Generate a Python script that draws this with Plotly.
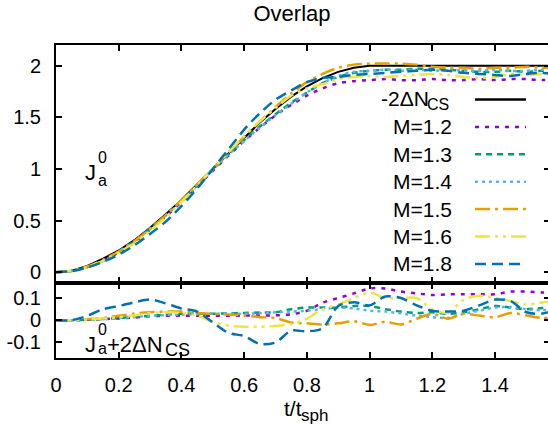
import plotly.graph_objects as go

# ---------------- data ----------------
t = [0, 0.05, 0.1, 0.15, 0.2, 0.25, 0.3, 0.35, 0.4, 0.45, 0.5, 0.55, 0.6, 0.65, 0.7,
     0.75, 0.8, 0.85, 0.9, 0.95, 1.0, 1.05, 1.1, 1.15, 1.2, 1.25, 1.3, 1.35, 1.4, 1.45, 1.5, 1.55, 1.6]

neg2dNcs = [0, 0.015, 0.06, 0.13, 0.21, 0.31, 0.43, 0.56, 0.70, 0.85, 1.0, 1.16, 1.31, 1.45,
            1.58, 1.70, 1.80, 1.88, 1.94, 1.98, 2.0, 2.0, 2.0, 2.0, 2.0, 2.0, 2.0, 2.0, 2.0, 2.0, 2.0, 2.0, 2.0]

J_M12 = [0, 0.012, 0.05, 0.11, 0.19, 0.29, 0.41, 0.54, 0.68, 0.83, 0.98, 1.13, 1.27, 1.40, 1.52,
         1.62, 1.71, 1.78, 1.83, 1.85, 1.86, 1.87, 1.86, 1.86, 1.87, 1.86, 1.86, 1.87, 1.86, 1.87, 1.87, 1.86, 1.87]
J_M13 = [0, 0.012, 0.05, 0.11, 0.2, 0.3, 0.42, 0.55, 0.69, 0.84, 0.99, 1.14, 1.28, 1.41, 1.53,
         1.64, 1.74, 1.83, 1.89, 1.93, 1.95, 1.96, 1.96, 1.97, 1.97, 1.96, 1.95, 1.94, 1.94, 1.95, 1.94, 1.95, 1.95]
J_M14 = [0, 0.013, 0.05, 0.11, 0.2, 0.3, 0.42, 0.55, 0.69, 0.84, 0.99, 1.14, 1.27, 1.40, 1.52,
         1.63, 1.74, 1.83, 1.90, 1.94, 1.95, 1.96, 1.95, 1.96, 1.95, 1.96, 1.95, 1.95, 1.96, 1.95, 1.95, 1.96, 1.95]
J_M15 = [0, 0.013, 0.055, 0.12, 0.2, 0.3, 0.42, 0.55, 0.70, 0.85, 1.0, 1.16, 1.31, 1.46, 1.60,
         1.73, 1.84, 1.92, 1.98, 2.01, 2.02, 2.02, 2.02, 2.01, 1.99, 1.98, 1.98, 1.97, 1.98, 1.98, 1.99, 1.98, 1.98]
J_M16 = [0, 0.012, 0.05, 0.11, 0.19, 0.28, 0.40, 0.53, 0.68, 0.84, 1.0, 1.16, 1.32, 1.46, 1.59,
         1.71, 1.78, 1.82, 1.87, 1.89, 1.90, 1.89, 1.90, 1.91, 1.92, 1.91, 1.89, 1.88, 1.89, 1.92, 1.91, 1.92, 1.91]
J_M18 = [0, 0.01, 0.045, 0.1, 0.17, 0.26, 0.37, 0.49, 0.64, 0.81, 1.0, 1.19, 1.38, 1.54, 1.67,
         1.76, 1.84, 1.88, 1.89, 1.91, 1.92, 1.93, 1.94, 1.95, 1.96, 1.95, 1.93, 1.92, 1.91, 1.90, 1.92, 1.93, 1.92]

D_M12 = [0, 0, 0.002, 0.005, 0.008, 0.012, 0.018, 0.02, 0.021, 0.02, 0.02, 0.02, 0.021, 0.021, 0.022,
         0.027, 0.043, 0.079, 0.1, 0.121, 0.143, 0.143, 0.129, 0.121, 0.114, 0.117, 0.117, 0.117, 0.117, 0.129, 0.129,
         0.125, 0.128]
D_M13 = [0, 0, 0.002, 0.006, 0.01, 0.015, 0.02, 0.025, 0.029, 0.03, 0.029, 0.031, 0.033, 0.035, 0.036,
         0.05, 0.057, 0.057, 0.057, 0.064, 0.064, 0.05, 0.039, 0.033, 0.036, 0.029, 0.036, 0.05, 0.064, 0.057, 0.05,
         0.055, 0.06]
D_M14 = [0, 0, 0.002, 0.005, 0.01, 0.015, 0.02, 0.023, 0.025, 0.027, 0.029, 0.029, 0.029, 0.032, 0.036,
         0.039, 0.043, 0.05, 0.057, 0.053, 0.043, 0.039, 0.031, 0.021, 0.014, 0.01, 0.029, 0.043, 0.057, 0.06, 0.05,
         0.045, 0.05]
D_M15 = [0, 0, 0.005, 0.01, 0.02, 0.03, 0.036, 0.039, 0.039, 0.033, 0.029, 0.026, 0.021, 0.014, 0.01,
         -0.01, -0.014, -0.019, -0.014, -0.004, -0.021, -0.007, -0.019, 0.007, 0.029, 0.007, 0.029, 0.021, 0.014, 0.033, 0.021,
         0.01, 0.015]
D_M16 = [0, 0, 0.004, 0.008, 0.014, 0.021, 0.033, 0.036, 0.033, 0.021, -0.007, -0.024, -0.029, -0.029, -0.026,
         -0.017, 0.007, 0.05, 0.071, 0.1, 0.124, 0.1, 0.1, 0.1, 0.05, 0.033, 0.093, 0.11, 0.1, 0.086, 0.071,
         0.08, 0.09]
D_M18 = [0, 0, 0.02, 0.05, 0.064, 0.081, 0.093, 0.076, 0.053, 0.039, -0.01, -0.057, -0.071, -0.107, -0.1,
         -0.047, -0.05, -0.036, 0.064, 0.081, 0.067, 0.107, 0.1, 0.067, 0.043, 0.039, 0.043, 0.067, 0.093, 0.086, 0.036,
         0.03, 0.05]

labels = ["M=1.2", "M=1.3", "M=1.4", "M=1.5", "M=1.6", "M=1.8"]
top_series = [J_M12, J_M13, J_M14, J_M15, J_M16, J_M18]
bot_series = [D_M12, D_M13, D_M14, D_M15, D_M16, D_M18]
colors = ["#9400D3", "#009E73", "#56B4E9", "#E69F00", "#F0E442", "#0072B2"]
dashes = ["4px,6px", "6px,5px", "3px,4px", "15px,5px,3px,5px",
          "15px,5px,3px,5px,3px,5px", "11px,6px"]

xticks = [0, 0.2, 0.4, 0.6, 0.8, 1.0, 1.2, 1.4]
xticktext = ["0", "0.2", "0.4", "0.6", "0.8", "1", "1.2", "1.4"]
ytop_ticks = [0, 0.5, 1, 1.5, 2]
ytop_text = ["0", "0.5", "1", "1.5", "2"]
ybot_ticks = [-0.1, 0, 0.1]
ybot_text = ["-0.1", "0", "0.1"]

# ---------------- layout geometry (pixels) ----------------
W, H = 548, 437
L, R, T, B = 56, 548, 45, 358
SPLIT = 282.5
XSCALE = 313.6  # pixels per unit of t
FONT = "Liberation Sans, Arial, sans-serif"


def px(x):
    return (x - L) / (R - L)


def py(y):
    return (B - y) / (B - T)


split_frac = py(SPLIT)

fig = go.Figure()

# top panel
fig.add_trace(go.Scatter(x=t, y=neg2dNcs, mode="lines", xaxis="x2", yaxis="y2",
                         line=dict(color="black", width=2), showlegend=False))
for lab, ys, c, d in zip(labels, top_series, colors, dashes):
    fig.add_trace(go.Scatter(x=t, y=ys, mode="lines", xaxis="x2", yaxis="y2",
                             line=dict(color=c, width=2.5, dash=d, shape="spline", smoothing=0.8),
                             showlegend=False, name=lab))
# bottom panel
for lab, ys, c, d in zip(labels, bot_series, colors, dashes):
    fig.add_trace(go.Scatter(x=t, y=ys, mode="lines", xaxis="x", yaxis="y",
                             line=dict(color=c, width=2.5, dash=d, shape="spline", smoothing=0.8),
                             showlegend=False, name=lab))

# helper traces so the right-side tick axes are created
fig.add_trace(go.Scatter(x=[0], y=[0], xaxis="x", yaxis="y3", mode="markers",
                         marker=dict(opacity=0), showlegend=False, hoverinfo="skip"))
fig.add_trace(go.Scatter(x=[0], y=[0], xaxis="x2", yaxis="y4", mode="markers",
                         marker=dict(opacity=0), showlegend=False, hoverinfo="skip"))

axis_common = dict(showgrid=False, zeroline=False, ticks="inside", ticklen=6, tickwidth=1.5,
                   tickcolor="black", linecolor="black", linewidth=2,
                   tickfont=dict(family=FONT, size=20, color="black"))
xr = [0, (R - L) / XSCALE]

fig.update_layout(
    width=W, height=H,
    margin=dict(l=L, r=W - R, t=T, b=H - B),
    paper_bgcolor="white", plot_bgcolor="white",
    font=dict(family=FONT, size=20, color="black"),
    title=dict(text="Overlap", x=292 / W, xref="container", xanchor="center",
               y=1 - 13 / H, yref="container", yanchor="middle",
               font=dict(family=FONT, size=22, color="black")),
    xaxis=dict(domain=[0, 1], range=xr, anchor="y", tickvals=xticks, ticktext=xticktext,
               showline=True, mirror="ticks", ticklabelstandoff=8, **axis_common),
    xaxis2=dict(domain=[0, 1], range=xr, anchor="y2", matches="x", tickvals=xticks,
                showticklabels=False, showline=True, mirror="ticks", **axis_common),
    yaxis=dict(domain=[0, split_frac], range=[-0.17, 0.17], anchor="x", tickvals=ybot_ticks,
               ticktext=ybot_text, showline=True, mirror=False, ticklabelstandoff=9, **axis_common),
    yaxis2=dict(domain=[split_frac, 1], range=[-0.1, 2.2], anchor="x2", tickvals=ytop_ticks,
                ticktext=ytop_text, showline=True, mirror=False, ticklabelstandoff=9, **axis_common),
    yaxis3=dict(overlaying="y", side="right", anchor="x", range=[-0.17, 0.17], tickvals=ybot_ticks,
                showticklabels=False, showline=False, showgrid=False, zeroline=False,
                ticks="inside", ticklen=4, tickwidth=1.5, tickcolor="black"),
    yaxis4=dict(overlaying="y2", side="right", anchor="x2", range=[-0.1, 2.2], tickvals=ytop_ticks,
                showticklabels=False, showline=False, showgrid=False, zeroline=False,
                ticks="inside", ticklen=4, tickwidth=1.5, tickcolor="black"),
)


def txt(s, x, y, size, anchor="left"):
    return dict(text=s, x=px(x), y=py(y), xref="paper", yref="paper", xanchor=anchor,
                yanchor="middle", showarrow=False, borderpad=0,
                font=dict(family=FONT, size=size, color="black"))


ann = []
shapes = []
# x-axis title
ann.append(txt("t/t", 303, 408, 21, "right"))
ann.append(txt("sph", 300, 415, 17, "left"))
# J_a^0 label in top panel
ann.append(txt("J", 97, 172, 22, "right"))
ann.append(txt("0", 97, 157, 16))
ann.append(txt("a", 97, 180, 16))
# J_a^0 + 2ΔN_CS label in bottom panel
ann.append(txt("J", 97, 344, 22, "right"))
ann.append(txt("0", 97, 329, 16))
ann.append(txt("a", 97, 348, 16))
ann.append(txt("+2ΔN", 106, 344, 22))
ann.append(txt("CS", 164, 350, 18))

# legend (text right-aligned, sample line on the right)
leg_rows = [99.5, 126.9, 154.3, 181.7, 209.1, 236.5, 263.9]
leg_colors = ["black"] + colors
leg_dash = ["solid"] + dashes
ann.append(txt("-2ΔN", 430, leg_rows[0] - 1, 21, "right"))
ann.append(txt("CS", 426, leg_rows[0] + 5, 16, "left"))
for yy, lab in zip(leg_rows[1:], labels):
    ann.append(txt(lab, 453, yy, 21, "right"))
for yy, c, d in zip(leg_rows, leg_colors, leg_dash):
    shapes.append(dict(type="line", xref="paper", yref="paper", x0=px(475), x1=px(526),
                       y0=py(yy), y1=py(yy), line=dict(color=c, width=2.5, dash=d)))

fig.update_layout(annotations=ann, shapes=shapes)
fig.write_html("out.html")
